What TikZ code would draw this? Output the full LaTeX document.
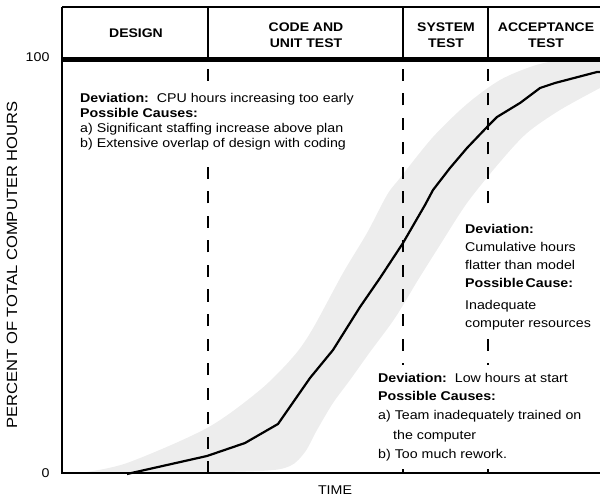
\documentclass[tikz,border=0pt]{standalone}
\usepackage{fontspec}
\setmainfont[FakeStretch=1.12]{Liberation Sans}

\begin{document}
\begin{tikzpicture}[x=1pt, y=-1pt]

\tikzstyle{phasehead}=[align=center, font=\fontsize{12.5}{15.5}\selectfont\bfseries]
\tikzstyle{devnote}=[align=left, fill=white, inner xsep=2pt, inner ysep=8pt, anchor=north west]
\tikzstyle{phaseline}=[line width=2.6pt, dash pattern=on 12pt off 12.5pt]
\tikzstyle{axislabel}=[font=\fontsize{12.7}{14.7}\selectfont]

\useasboundingbox (0,0) rectangle (600,497);

% band of normal behaviour
\begin{scope}
\clip (62,62) rectangle (600,473);
\fill[black!7] plot[smooth] coordinates {(80,473) (127,463) (207,428) (260,390)
  (293,357) (312,330) (343,273) (367,233) (387,195) (400,178) (433,137)
  (467,104) (500,80) (533,66) (560,60) (600,55)}
  -- plot[smooth] coordinates {(600,88) (560,110) (527,133) (500,162) (467,203)
  (440,245) (418,280) (395,318) (370,352) (350,380) (333,403) (317,430)
  (305,452) (290,466) (260,471) (150,473) (80,473)} -- cycle;
\end{scope}

% actual hours
\draw[line width=2.2pt, line join=round] (127,474) -- (207,456) -- (245,443)
  -- (278,424) -- (310,378) -- (333,350) -- (360,307) -- (380,278) -- (403,243)
  -- (425,205) -- (433,190) -- (450,168) -- (467,148) -- (488,126) -- (497,117)
  -- (520,103) -- (540,88) -- (555,83) -- (597,72) -- (600,72);

% phase ends
\foreach \x in {208,403,488}
  \draw[phaseline] (\x,473) -- (\x,62);

\node[devnote, font=\fontsize{12.7}{14.7}\selectfont] (early) at (78,85.5)
  {\textbf{Deviation:}\ \ CPU hours increasing too early\\
   \textbf{Possible Causes:}\\
   a) Significant staffing increase above plan\\
   b) Extensive overlap of design with coding};
\node[devnote, font=\fontsize{12.7}{18}\selectfont] (flatter) at (463,216)
  {\textbf{Deviation:}\\
   Cumulative hours\\
   flatter than model\\
   \textbf{Possible\hspace{2pt}Cause:}\\[4pt]
   Inadequate\\
   computer resources};
\node[devnote, font=\fontsize{12.7}{18.5}\selectfont] (lowstart) at (376,365)
  {\textbf{Deviation:}\ \ Low hours at start\\
   \textbf{Possible Causes:}\\
   a) Team inadequately trained on\\[2pt]
   \hspace*{15pt}the computer\\
   b) Too much rework.};

% frame and phase heading
\draw[line width=2.3pt] (62,7) -- (600,7);
\draw[line width=2.6pt] (62,7) -- (62,473) -- (600,473);
\draw[line width=5pt] (62,59.5) -- (600,59.5);
\foreach \x in {208,403,488}
  \draw[line width=2pt] (\x,7) -- (\x,59.5);

\node[phasehead] (design) at (136,33) {DESIGN};
\node[phasehead] (code) at (306,35) {CODE AND\\UNIT TEST};
\node[phasehead] (systest) at (446,35) {SYSTEM\\TEST};
\node[phasehead] (acctest) at (546,35) {ACCEPTANCE\\TEST};

\node[axislabel, anchor=east] (top) at (53,57) {100};
\node[axislabel, anchor=east] (zero) at (53,473) {0};
\node[axislabel, rotate=90, font=\fontsize{14.8}{16}\selectfont] (ylab) at (12,265) {PERCENT OF TOTAL COMPUTER HOURS};
\node[axislabel] (time) at (335,490) {TIME};

\end{tikzpicture}
\end{document}
